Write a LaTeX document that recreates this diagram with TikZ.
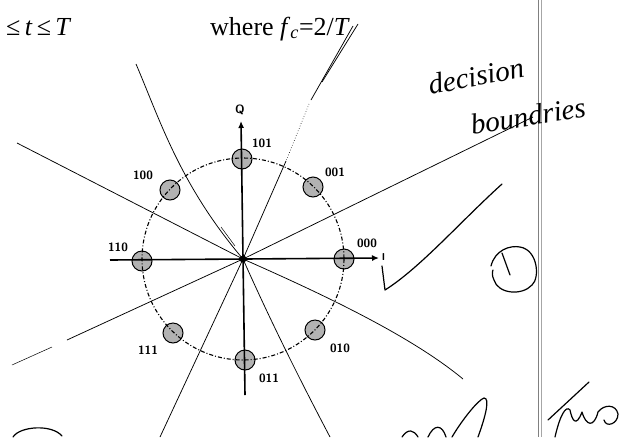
\documentclass[tikz,border=0pt]{standalone}
\usepackage{fontspec}
\setmainfont{Liberation Serif}
\usetikzlibrary{arrows.meta}
\begin{document}
\begin{tikzpicture}[x=1pt,y=-1pt]
\tikzset{
 sym/.style={circle, draw=black, line width=1pt, fill=gray!60, minimum size=20pt, inner sep=0pt},
 lab/.style={font=\fontsize{12}{12}\sffamily\bfseries, inner sep=0pt},
 bnd/.style={line width=0.75pt},
 axisline/.style={line width=1.6pt, -{Latex[length=7pt,width=6pt]}},
 hand/.style={line width=1.2pt, line cap=round, line join=round},
 toptxt/.style={font=\fontsize{26}{26}\selectfont, inner sep=0pt, anchor=base west},
 script/.style={font=\fontsize{29}{29}\selectfont\itshape, inner sep=0pt},
 rim/.style={line width=1.1pt, dash pattern=on 4pt off 2pt on 1pt off 2pt}
}
\useasboundingbox (0,0) rectangle (620,437);
\fill[white] (0,0) rectangle (620,437);

% page edge double line
\draw[gray, line width=0.8pt] (538,0) -- (538,437);
\draw[gray!70, line width=0.6pt] (541.5,0) -- (541.5,437);

% top text
\node[toptxt] (t1) at (6,35) {≤\,\textit{t}\,≤\,\textit{T}};
\node[toptxt] (t2) at (210,35) {where \textit{f}\textsubscript{\textit{c}}=2/\textit{T}};

\coordinate (O) at (243,259);

% decision boundaries
% A
\coordinate (A1) at (533,117);
\coordinate (A2) at (67,340);
\coordinate (A3) at (52,347);
\coordinate (A4) at (12,365);
\draw[bnd] (O) -- (A1);
\draw[bnd] (O) -- (A2);
\draw[line width=0.5pt] (A3) -- (A4);
% B
\coordinate (B1) at (17,143);
\draw[bnd] (B1) -- (O);
\draw[bnd] (O) .. controls (320,293) and (410,335) .. (463,379);
% C
\coordinate (C1) at (136,64);
\coordinate (C2) at (330,437);
\draw[bnd] (C1) .. controls (160,120) and (180,185) .. (O);
\draw[bnd] (O) .. controls (270,320) and (300,380) .. (C2);
\draw[line width=0.5pt] (221,227) -- (235,246);
% D
\coordinate (D1) at (358,24);
\coordinate (D2) at (322,82);
\coordinate (D3) at (353,26);
\coordinate (D4) at (311,100);
\coordinate (D5) at (309,104);
\coordinate (D6) at (286,161);
\coordinate (D7) at (160,437);
\draw[bnd] (D1) -- (D2);
\draw[bnd] (D3) -- (D4);
\draw[line width=0.6pt, dotted] (D5) -- (D6);
\draw[bnd] (D6) -- (O) -- (D7);

% constellation points
\node[sym] (p000) at (344,259) {};
\node[sym] (p001) at (313,187) {};
\node[sym] (p101) at (242,159) {};
\node[sym] (p100) at (170,190) {};
\node[sym] (p110) at (142,261) {};
\node[sym] (p111) at (173,333) {};
\node[sym] (p011) at (245,360) {};
\node[sym] (p010) at (315,330) {};

% dashed circle
\draw[rim] (O) circle[radius=101];

% axes
\coordinate (Hl) at (110,260);
\coordinate (Hr) at (379,258);
\coordinate (Vb) at (245,395);
\coordinate (Vt) at (241,121);
\draw[axisline] (Hl) -- (Hr);
\draw[axisline] (Vb) -- (Vt);
\fill (O) circle[radius=3.5];

\node[lab] (lQ) at (240,110) {Q};
\node[lab, font=\fontsize{10}{10}\sffamily\bfseries] (lI) at (383.5,257) {I};

% labels
\node[lab] (l101) at (262,143) {101};
\node[lab] (l100) at (143,175) {100};
\node[lab] (l001) at (335,172) {001};
\node[lab] (l110) at (118,247) {110};
\node[lab] (l000) at (367,243) {000};
\node[lab] (l111) at (148,350) {111};
\node[lab] (l010) at (340,348) {010};
\node[lab] (l011) at (269,378) {011};

% handwriting
\node[script, rotate=11] (hw1) at (476,76) {decision};
\node[script, rotate=9] (hw2) at (528,116) {boundries};

% check mark
\coordinate (K1) at (382,266);
\coordinate (K2) at (385,290);
\coordinate (K3) at (502,184);
\draw[hand] (K1) -- (K2) .. controls (420,268) and (460,222) .. (K3);

% circled one
\draw[hand] (491,266) .. controls (495,250) and (510,245) .. (520,247)
  .. controls (538,250) and (540,278) .. (532,285)
  .. controls (522,296) and (498,294) .. (494,280)
  .. controls (492,276) and (492,272) .. (493,270);
\draw[hand] (502,253) -- (510,275);

% bottom-left arc
\draw[hand] (13,437) .. controls (20,426) and (52,424) .. (62,436);

% bottom-right scribble
\draw[hand] (402,437) .. controls (408,428) and (414,430) .. (418,437)
  (428,437) .. controls (434,424) and (442,424) .. (446,437)
  (452,437) .. controls (462,420) and (478,400) .. (484,398)
  .. controls (490,398) and (486,415) .. (478,437);
\draw[hand] (548,420) -- (589,382);
\draw[hand] (555,437) .. controls (560,415) and (566,405) .. (570,410)
  .. controls (572,420) and (576,428) .. (582,412)
  .. controls (586,426) and (594,428) .. (598,412)
  .. controls (604,404) and (616,404) .. (618,414)
  .. controls (618,424) and (606,428) .. (604,420);
\end{tikzpicture}
\end{document}
